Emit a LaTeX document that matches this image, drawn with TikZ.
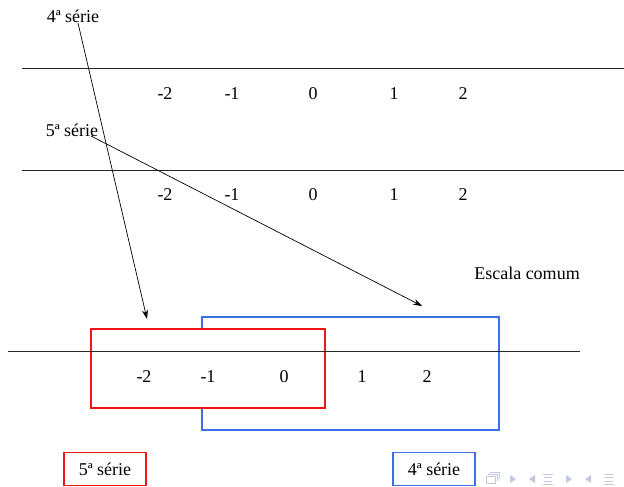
\documentclass[tikz,border=0pt]{standalone}
\usepackage{fontspec}
\setmainfont{Liberation Serif}
\usetikzlibrary{arrows.meta}
\definecolor{redbox}{RGB}{240,20,20}
\definecolor{bluebox}{RGB}{60,110,230}
\definecolor{navc}{RGB}{195,200,225}
\begin{document}
\begin{tikzpicture}[x=1pt,y=-1pt,
  lbl/.style={inner sep=0pt,font=\fontsize{18}{20}\selectfont},
  axis/.style={line width=0.8pt,black!85},
  arr/.style={line width=0.7pt,-{Stealth[length=9pt,width=6pt]}},
  redframe/.style={draw=redbox,line width=1.2pt},
  blueframe/.style={draw=bluebox,line width=1.2pt},
  nav/.style={fill=navc,draw=none}]
\useasboundingbox (0,0) rectangle (624,487);
% axes
\coordinate (a1l) at (22,68); \coordinate (a1r) at (624,68);
\coordinate (a2l) at (22,170); \coordinate (a2r) at (624,170);
\coordinate (a3l) at (8,351); \coordinate (a3r) at (580,351);
\draw[axis] (a1l) -- (a1r);
\draw[axis] (a2l) -- (a2r);
% numbers row 1
\node[lbl] (r1a) at (165,94) {-2};
\node[lbl] (r1b) at (232,94) {-1};
\node[lbl] (r1c) at (313,94) {0};
\node[lbl] (r1d) at (394,94) {1};
\node[lbl] (r1e) at (463,94) {2};
% numbers row 2
\node[lbl] (r2a) at (165,195) {-2};
\node[lbl] (r2b) at (232,195) {-1};
\node[lbl] (r2c) at (313,195) {0};
\node[lbl] (r2d) at (394,195) {1};
\node[lbl] (r2e) at (463,195) {2};
% labels
\node[lbl] (s4) at (73,16) {4ª série};
\node[lbl] (s5) at (72,130) {5ª série};
\node[lbl] (esc) at (527,273) {Escala comum};
% boxes on common scale
\node[blueframe,minimum width=297pt,minimum height=113pt,inner sep=0pt] (bb) at (350.5,373.5) {};
\node[redframe,fill=white,minimum width=234pt,minimum height=79pt,inner sep=0pt] (rb) at (208,368.5) {};
\draw[axis] (a3l) -- (a3r);
% numbers row 3
\node[lbl] (r3a) at (144,377) {-2};
\node[lbl] (r3b) at (208,377) {-1};
\node[lbl] (r3c) at (284,377) {0};
\node[lbl] (r3d) at (362,377) {1};
\node[lbl] (r3e) at (427,377) {2};
% arrows
\coordinate (p4s) at (78,23); \coordinate (p4e) at (147,319);
\coordinate (p5s) at (91,136); \coordinate (p5e) at (422,306);
\draw[arr] (p4s) -- (p4e);
\draw[arr] (p5s) -- (p5e);
% legend
\node[redframe,minimum width=82pt,minimum height=33pt,inner sep=0pt,lbl] (leg5) at (105,469) {5ª série};
\node[blueframe,minimum width=82pt,minimum height=33pt,inner sep=0pt,lbl] (leg4) at (434,469) {4ª série};
% navigation symbols
\begin{scope}[navc,line width=0.8pt]
\draw (486,476) rectangle (495,483);
\draw (488,474) -- (497,474) -- (497,481);
\draw (490,472) -- (499,472) -- (499,479);
\fill (510,475) -- (516,479) -- (510,483) -- cycle;
\fill (535,475) -- (529,479) -- (535,483) -- cycle;
\draw (543,474) -- (553,474) (544,477.5) -- (552,477.5) (544,481) -- (552,481) (543,484.5) -- (553,484.5);
\fill (566,475) -- (572,479) -- (566,483) -- cycle;
\fill (591,475) -- (585,479) -- (591,483) -- cycle;
\draw (604,474) -- (614,474) (605,477.5) -- (613,477.5) (605,481) -- (613,481) (604,484.5) -- (614,484.5);
\end{scope}
\end{tikzpicture}
\end{document}
